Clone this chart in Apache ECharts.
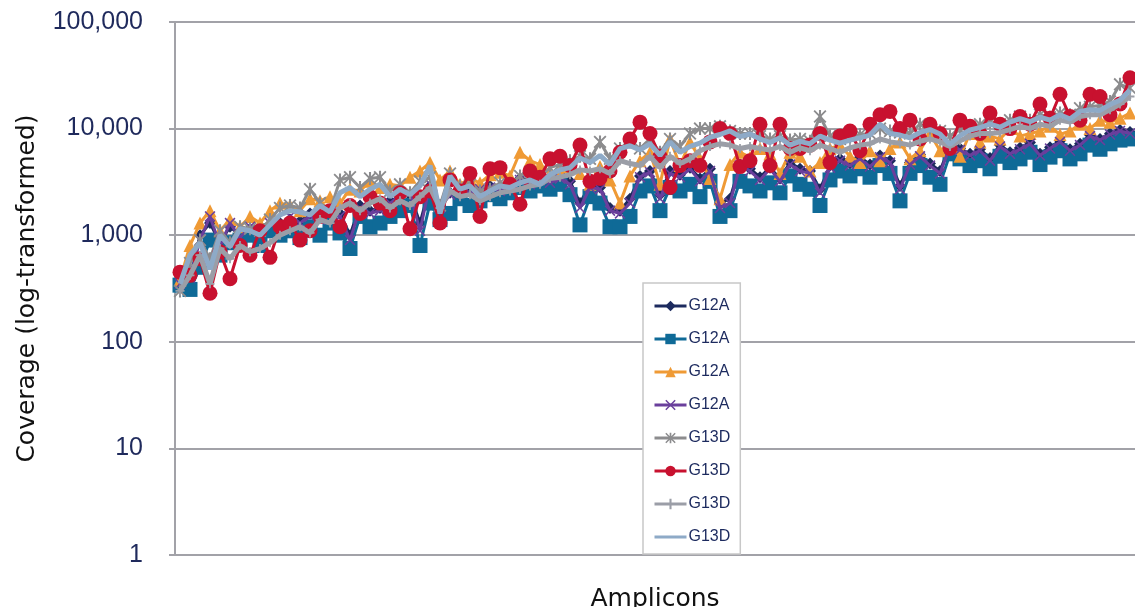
<!DOCTYPE html>
<html>
<head>
<meta charset="utf-8">
<script src="https://cdn.jsdelivr.net/npm/echarts@6/dist/echarts.min.js"></script>
<style>
  html, body { margin: 0; padding: 0; background: #fff; }
  #chart { width: 1135px; height: 607px; }
</style>
</head>
<body>
<div id="chart"></div>
<script>
// y axis ticks (log scale)
var yTicks = [1, 10, 100, 1000, 10000, 100000];

// legend labels, one per series (duplicates as in the source chart)
var seriesLabels = ['G12A', 'G12A', 'G12A', 'G12A', 'G13D', 'G13D', 'G13D', 'G13D'];

// coverage per amplicon
var g12aDiamond = [360,380,1000,1300,850,1200,1000,1150,1200,1250,1300,1400,1350,1600,1500,1600,1600,1000,1900,1700,
  1800,2100,2300,2400,1300,2900,1900,2500,2700,2600,2800,2900,2700,3000,3400,3200,3400,3300,3600,3200,
  2000,3000,2800,1800,1700,2200,3600,4000,2400,4000,3700,4300,3400,4200,2000,2200,4600,4200,3500,4300,
  3400,4800,4200,4000,2700,4500,5200,4700,5400,4600,5600,5000,2900,4800,5700,4700,4000,7000,6500,5800,
  6400,5300,7000,6000,6600,7400,5800,6700,7700,6400,7200,8700,8000,9000,9700,9300];
var g12aSquare = [340,310,500,900,650,850,900,1000,800,1100,1000,1100,950,1200,1000,1300,1050,750,1500,1200,
  1300,1500,1700,1900,800,2000,1400,1600,2200,1900,2100,2400,2200,2500,2800,2600,2900,2700,3000,2400,
  1250,2300,2000,1200,1200,1500,2600,2900,1700,2800,2600,3000,2300,3200,1500,1700,3200,2900,2600,3100,
  2500,3600,3000,2700,1900,3300,4000,3600,4200,3500,4500,3800,2100,3800,4500,3500,3000,5800,5200,4500,
  5000,4200,5500,4800,5200,6000,4600,5400,6200,5200,5800,7000,6400,7200,7800,8000];
var g12aTriangle = [380,800,1300,1700,1100,1400,1200,1500,1300,1700,2000,1900,1700,2200,2100,2300,2000,2700,2600,3200,
  2800,3000,2900,3500,4000,4800,3300,4000,3000,3400,3100,3700,3900,3600,6000,5000,4600,3800,4200,4400,
  3800,3000,4400,3300,2000,3600,5000,6000,3000,8000,4500,7500,5200,3400,2200,4600,6000,5400,6500,5800,
  3800,6000,5500,4000,4800,6500,7000,5500,4800,6200,5000,6500,7500,5200,6200,9000,6200,7000,5500,9000,
  7500,8500,8000,10000,8500,9000,9500,10500,8800,9500,11000,10000,12000,11500,12500,14000];
var g12aCross = [350,400,900,1500,800,1300,950,1200,1100,1300,1200,1500,1300,1500,1400,1700,1500,900,1800,1600,
  1700,2000,2200,2500,1100,3000,1800,2400,2600,2500,2700,2800,2600,2900,3300,3000,3300,3100,3400,3000,
  1800,2800,2700,1700,1600,2000,3500,3900,2200,3800,3500,4200,3200,4000,1800,2000,4500,4000,3300,4200,
  3200,4600,4000,3800,2500,4300,5000,4500,5200,4400,5400,4800,2700,4600,5500,4500,3800,6800,6300,5600,
  6200,5000,6800,5800,6400,7200,5600,6500,7500,6200,7000,8500,7800,8800,9500,9000];
var g13dStar = [300,550,900,600,1100,850,1200,1150,1100,1400,1800,1900,1800,2700,2000,1700,3300,3500,2800,3400,
  3500,2600,3000,2500,3200,3500,1900,3800,2900,3000,2600,2700,3100,3000,3600,3900,3500,4300,4600,5000,
  5500,5200,7500,5200,6500,7500,6500,8000,6000,8000,6800,9000,10000,10000,10500,9500,9000,9000,8500,8000,
  8500,7800,8000,7600,13000,8500,8000,8300,8800,9000,10000,9500,9200,9000,11000,10000,9500,8500,9800,10200,
  11000,11500,11000,12000,13000,12000,13500,12800,14000,13500,15500,16000,16500,18000,26000,24000];
var g13dCircle = [450,420,600,285,700,390,800,650,1100,620,1200,1300,900,1100,1500,1700,1200,1900,1600,2300,
  2000,1700,2500,1150,2300,2600,1300,3300,2600,3800,1500,4200,4300,3000,1950,4000,3500,5200,5500,4500,
  7000,3200,3400,4000,6000,8000,11500,9000,5500,2800,4500,5000,4500,7500,10000,9000,4400,5000,11000,4500,
  11000,6500,6500,7000,9000,4800,8500,9500,6200,11000,13500,14500,10000,12000,8000,11000,9000,6500,12000,10500,
  9000,14000,11000,10000,13000,11000,17000,12500,21000,13000,12000,21000,20000,13500,17000,30000];
var g13dPlus = [300,420,650,350,750,600,800,700,750,850,1000,1100,1200,1050,1400,1300,1800,2000,1700,2000,
  2200,1800,2100,1900,2300,2800,1800,2600,2300,2400,2100,2300,2500,2600,2700,2900,3000,3400,3500,3700,
  4100,4000,4200,3800,5000,4700,4500,5500,4300,5500,4700,5200,6200,6800,7200,7000,6500,6800,6500,6300,
  6800,6000,6600,6200,7000,6500,6000,6600,7000,7200,8000,7500,7300,7000,7600,8000,7500,6800,7700,8500,
  9000,9000,9200,9800,10500,10000,11000,10500,12000,11500,13000,13500,13500,15000,17000,20000];
var g13dLine = [350,650,850,480,1000,780,1150,1100,1000,1250,1550,1700,1650,1550,1900,1650,2500,2800,2300,2700,
  3000,2300,2700,2400,2900,4500,1600,3600,2700,2900,2300,2600,2900,2800,3100,3300,3000,3700,4100,4300,
  5300,4800,5600,4600,6500,6900,6300,7200,5600,7500,6000,6800,7300,8300,8800,9500,8400,8900,8000,7400,
  8200,7000,7600,7200,8500,7800,7300,7800,8200,8700,11000,9000,8700,8200,9200,9800,8900,7100,8600,9700,
  10200,11000,10300,11500,12400,11600,12800,12000,13500,12300,14500,15000,14800,16800,18500,23000];

var amplicons = g13dLine.map(function (v, i) { return 'Amplicon ' + (i + 1); });

var xMark = 'path://M1,0L5,4L9,0L10,1L6,5L10,9L9,10L5,6L1,10L0,9L4,5L0,1Z';
var starMark = 'path://M1,0L5,4L9,0L10,1L6,5L10,9L9,10L5,6L1,10L0,9L4,5L0,1Z M4.2,0H5.8V10H4.2Z';
var plusMark = 'path://M4,0H6V4H10V6H6V10H4V6H0V4H4Z';
// thin bar with empty corners: only so the plain line's legend icon shows no marker
var barMark = 'path://M0,0L0.01,0Z M0,4.6H10V5.4H0Z M10,10L9.99,10Z';

var seriesDefs = [
  { data: g12aDiamond,  color: '#1c2a5e', symbol: 'diamond',  size: 12, width: 3, marks: true },
  { data: g12aSquare,   color: '#0f6a97', symbol: 'rect',     size: 15, width: 3, marks: true },
  { data: g12aTriangle, color: '#ef9a35', symbol: 'triangle', size: 13, width: 3, marks: true },
  { data: g12aCross,    color: '#6a3f9c', symbol: xMark,      size: 11, width: 3, marks: true },
  { data: g13dStar,     color: '#8c8c8e', symbol: starMark,   size: 13, width: 3, marks: true },
  { data: g13dCircle,   color: '#c8112f', symbol: 'circle',   size: 15, width: 3, marks: true },
  { data: g13dPlus,     color: '#9b9ea7', symbol: plusMark,   size: 9,  width: 5, marks: true },
  { data: g13dLine,     color: '#8eaac7', symbol: barMark,    size: 10, width: 5, marks: false }
];

var series = seriesDefs.map(function (d, i) {
  return {
    name: seriesLabels[i] + '#' + i,
    type: 'line',
    z: 10 + i,
    data: d.data,
    symbol: d.symbol,
    symbolSize: d.size,
    showSymbol: d.marks,
    showAllSymbol: true,
    lineStyle: { color: d.color, width: d.width },
    itemStyle: { color: d.color, borderWidth: 0 },
    emphasis: { disabled: true }
  };
});

var chart = echarts.init(document.getElementById('chart'));
chart.setOption({
  animation: false,
  backgroundColor: '#fff',
  grid: { left: 175, right: 0, top: 22, bottom: 52, outerBoundsMode: 'none' },
  legend: {
    orient: 'vertical',
    left: 643,
    top: 283,
    z: 50,
    padding: [15, 10, 9, 10],
    itemWidth: 32,
    itemHeight: 13,
    itemGap: 17,
    backgroundColor: '#fff',
    borderColor: '#c8c8c8',
    borderWidth: 1.5,
    lineStyle: { width: 3 },
    data: series.map(function (s) { return s.name; }),
    formatter: function (name) { return name.split('#')[0]; },
    textStyle: { color: '#1c2a5e', fontSize: 16, fontFamily: 'Liberation Sans', padding: [0, 0, 0, -3] }
  },
  xAxis: {
    type: 'category',
    data: amplicons,
    boundaryGap: true,
    name: 'Amplicons',
    nameLocation: 'middle',
    nameGap: 32,
    nameTextStyle: { color: '#111', fontSize: 25, fontFamily: 'DejaVu Sans' },
    axisLine: { show: true, lineStyle: { color: '#a2a2a8', width: 2 } },
    axisTick: { show: false },
    axisLabel: { show: false }
  },
  yAxis: {
    type: 'log',
    logBase: 10,
    min: yTicks[0],
    max: yTicks[yTicks.length - 1],
    name: 'Coverage (log-transformed)',
    nameLocation: 'middle',
    nameGap: 135,
    nameTextStyle: { color: '#111', fontSize: 25, fontFamily: 'DejaVu Sans' },
    axisLine: { show: true, lineStyle: { color: '#a2a2a8', width: 2 } },
    axisTick: { show: true, length: 6, lineStyle: { color: '#a2a2a8', width: 2 } },
    splitLine: { show: true, lineStyle: { color: '#a2a2a8', width: 2 } },
    axisLabel: {
      margin: 32,
      color: '#1f2a5c',
      fontSize: 25,
      fontFamily: 'Liberation Sans',
      formatter: function (v) { return Number(v).toLocaleString('en-US'); }
    }
  },
  series: series
});
window.onresize = chart.resize;
</script>
</body>
</html>
